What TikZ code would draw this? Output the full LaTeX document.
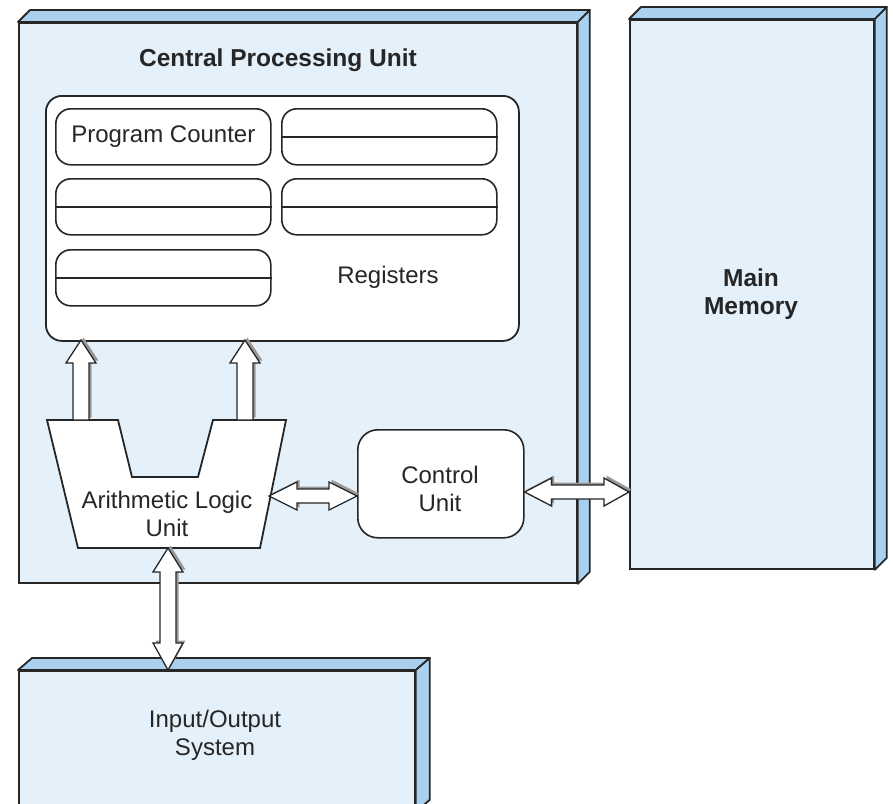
\documentclass[tikz,border=0pt]{standalone}
\usepackage{fontspec}
\setmainfont{Liberation Sans}
\usetikzlibrary{calc}
\definecolor{frontc}{HTML}{E4F0FA}
\definecolor{sidec}{HTML}{A9D0EE}
\definecolor{edgec}{HTML}{262626}
\newcommand\fatpath[1]{%
  \begin{scope}[transform canvas={xshift=2.5pt,yshift=2.5pt}]\fill[black!40] #1;\end{scope}%
  \draw[fat] #1;}
\begin{document}
\begin{tikzpicture}[x=1pt,y=-1pt,
  face/.style={draw=edgec, fill=frontc, line width=1.8pt, inner sep=0pt, anchor=north west},
  sideface/.style={draw=edgec, fill=sidec, line width=1.8pt, line join=round},
  regblock/.style={draw=edgec, fill=white, line width=1.8pt, rounded corners=16pt, inner sep=0pt, anchor=north west},
  cell/.style={draw=edgec, fill=white, line width=1.6pt, rounded corners=15pt, minimum width=215pt, minimum height=56pt, inner sep=0pt, anchor=north west},
  divline/.style={draw=edgec, line width=1.7pt},
  lbl/.style={font=\fontsize{24}{28}\selectfont, align=center, text=black!85},
  lblb/.style={font=\fontsize{24.5}{28}\selectfont\bfseries, align=center, text=black!85},
  fat/.style={draw=edgec, fill=white, line width=1.3pt, line join=miter},
  aluface/.style={draw=edgec, fill=white, line width=1.8pt, line join=miter},
]
\useasboundingbox (0,0) rectangle (893,803);
\fill[white] (0,0) rectangle (893,803);
\begin{scope}
\clip (0,0) rectangle (893,803);
% CPU box
\node[face, minimum width=558pt, minimum height=560pt] (cpu) at (18,22) {};
\draw[sideface] (cpu.north west) -- ++(12,-12) -- ($(cpu.north east)+(12,-12)$) -- (cpu.north east) -- cycle;
\draw[sideface] (cpu.north east) -- ++(12,-12) -- ($(cpu.south east)+(12,-12)$) -- (cpu.south east) -- cycle;
% Main memory
\node[face, minimum width=244pt, minimum height=549pt] (mem) at (629,19) {};
\draw[sideface] (mem.north west) -- ++(12,-12) -- ($(mem.north east)+(12,-12)$) -- (mem.north east) -- cycle;
\draw[sideface] (mem.north east) -- ++(12,-12) -- ($(mem.south east)+(12,-12)$) -- (mem.south east) -- cycle;
% IO
\node[face, minimum width=396pt, minimum height=140pt] (io) at (18,670) {};
\draw[sideface] (io.north west) -- ++(14,-12) -- ($(io.north east)+(14,-12)$) -- (io.north east) -- cycle;
\draw[sideface] (io.north east) -- ++(14,-12) -- ($(io.south east)+(14,-12)$) -- (io.south east) -- cycle;
\end{scope}

% labels of big boxes
\node[lblb] (cputitle) at (278,60) {Central Processing Unit};
\node[lblb] (memtitle) at (751,294) {Main\\Memory};
\node[lbl] (iotitle) at (215,735) {Input/Output\\System};

% registers
\node[regblock, minimum width=473pt, minimum height=245pt] (regs) at (45,95) {};
\node[cell, lbl] (pc) at (55,108) {Program Counter};
\node[cell] (r1) at (281,108) {};
\node[cell] (r2) at (55,178) {};
\node[cell] (r3) at (281,178) {};
\node[cell] (r4) at (55,249) {};
\draw[divline] (r1.west) -- (r1.east);
\draw[divline] (r2.west) -- (r2.east);
\draw[divline] (r3.west) -- (r3.east);
\draw[divline] (r4.west) -- (r4.east);
\node[lbl] (reglbl) at (388,277) {Registers};

% ALU
\draw[aluface] (47,420) -- (118,420) -- (132,477) -- (198,477) -- (213,420) -- (286,420) -- (260,548) -- (78,548) -- cycle;
\node[lbl] (alu) at (167,514) {Arithmetic Logic\\Unit};

% Control unit
\node[cell, minimum width=166pt, minimum height=108pt, rounded corners=20pt] (cu) at (357,429) {};
\node[lbl] (cutext) at (440,489) {Control\\Unit};

% arrow end points
\coordinate (up1s) at (81,420);
\coordinate (up1t) at (81,340);
\coordinate (up2s) at (245,420);
\coordinate (up2t) at (245,340);
\coordinate (h1a) at (269,496);
\coordinate (h1b) at (cu.west |- h1a);
\coordinate (h2a) at (cu.east |- 0,492);
\coordinate (h2b) at (mem.west |- 0,492);
\coordinate (v1a) at (168,548);
\coordinate (v1b) at (168,670);

% up arrows ALU -> registers
\fatpath{($(up1s)+(-8,0)$) -- ($(up1t)+(-8,23)$) -- ($(up1t)+(-15,23)$) -- (up1t) -- ($(up1t)+(15,23)$) -- ($(up1t)+(8,23)$) -- ($(up1s)+(8,0)$) -- cycle}
\fatpath{($(up2s)+(-8,0)$) -- ($(up2t)+(-8,23)$) -- ($(up2t)+(-15,23)$) -- (up2t) -- ($(up2t)+(15,23)$) -- ($(up2t)+(8,23)$) -- ($(up2s)+(8,0)$) -- cycle}

% ALU <-> CU
\fatpath{(h1a) -- ($(h1a)+(28,-14)$) -- ($(h1a)+(28,-7)$) -- ($(h1b)+(-28,-7)$) -- ($(h1b)+(-28,-14)$) -- (h1b) -- ($(h1b)+(-28,14)$) -- ($(h1b)+(-28,7)$) -- ($(h1a)+(28,7)$) -- ($(h1a)+(28,14)$) -- cycle}
% CU <-> Memory
\fatpath{(h2a) -- ($(h2a)+(27,-14)$) -- ($(h2a)+(27,-7)$) -- ($(h2b)+(-25,-7)$) -- ($(h2b)+(-25,-14)$) -- (h2b) -- ($(h2b)+(-25,14)$) -- ($(h2b)+(-25,7)$) -- ($(h2a)+(27,7)$) -- ($(h2a)+(27,14)$) -- cycle}
% ALU <-> IO
\fatpath{(v1a) -- ($(v1a)+(15,24)$) -- ($(v1a)+(8,24)$) -- ($(v1b)+(8,-27)$) -- ($(v1b)+(15,-27)$) -- (v1b) -- ($(v1b)+(-15,-27)$) -- ($(v1b)+(-8,-27)$) -- ($(v1a)+(-8,24)$) -- ($(v1a)+(-15,24)$) -- cycle}
\end{tikzpicture}
\end{document}
